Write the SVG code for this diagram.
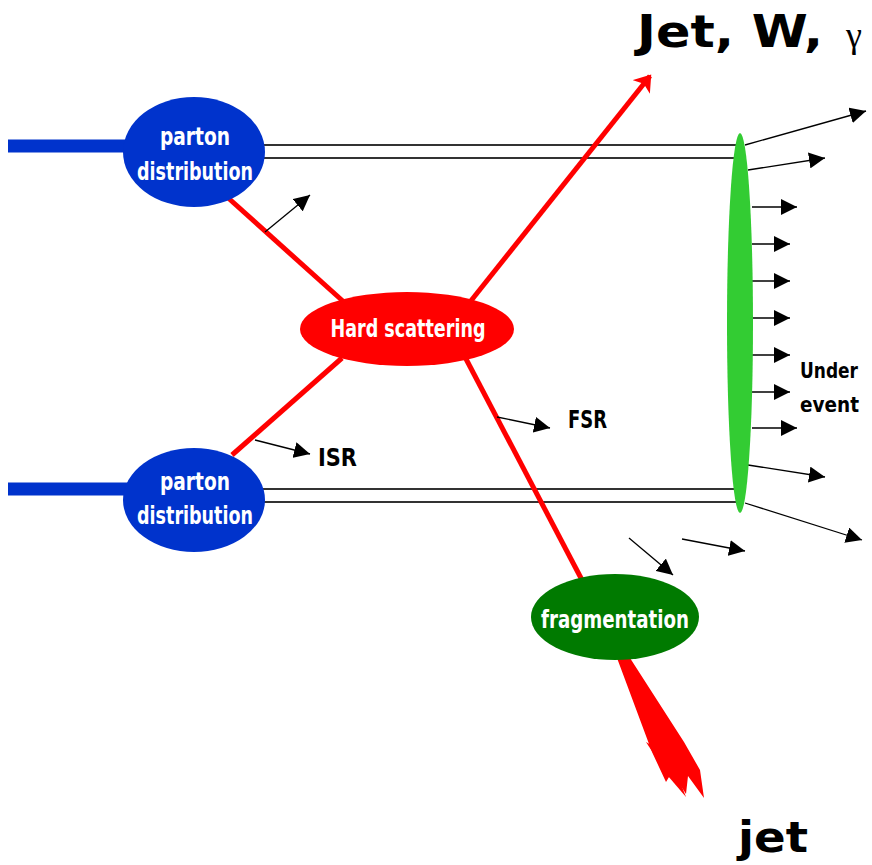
<svg xmlns="http://www.w3.org/2000/svg" width="872" height="865" viewBox="0 0 872 865">
<defs>
<marker id="ah" markerUnits="userSpaceOnUse" markerWidth="18" markerHeight="16" refX="16" refY="8" orient="auto">
<path d="M0,0 L16,8 L0,16 Z" fill="#000"/>
</marker>
<marker id="rh" markerUnits="userSpaceOnUse" markerWidth="22" markerHeight="22" refX="14" refY="11" orient="auto">
<path d="M0,0 L16,11 L0,22 L4,11 Z" fill="#ff0000"/>
</marker>
<style>
.lbl{font-family:"DejaVu Sans Condensed","DejaVu Sans",sans-serif;font-weight:bold;fill:#fff;font-size:25px}
.blk{font-family:"DejaVu Sans Condensed","DejaVu Sans",sans-serif;font-weight:bold;fill:#000;font-size:25px}
.ue{font-size:21px}
.big{font-family:"Comic Sans MS","DejaVu Sans",sans-serif;font-weight:bold;fill:#000}
.red{stroke:#ff0000;stroke-width:5;fill:none}
.thin{stroke:#000;stroke-width:1.3;fill:none;marker-end:url(#ah)}
.dbl{stroke:#333;stroke-width:2;fill:none}
.beam{stroke:#0033cc;stroke-width:13;fill:none}
</style>
</defs>
<rect width="872" height="865" fill="#fff"/>

<g id="connectors">
<line class="beam" x1="8" y1="146" x2="130" y2="146"/>
<line class="beam" x1="8" y1="489" x2="130" y2="489"/>
<line class="dbl" x1="262" y1="145" x2="740" y2="145"/>
<line class="dbl" x1="262" y1="158" x2="740" y2="158"/>
<line class="dbl" x1="262" y1="489" x2="740" y2="489"/>
<line class="dbl" x1="262" y1="502" x2="740" y2="502"/>
<line class="red" x1="226" y1="196" x2="345" y2="303"/>
<line class="red" x1="232" y1="455" x2="342" y2="358"/>
<line class="red" x1="470" y1="302" x2="650" y2="76" marker-end="url(#rh)"/>
<line class="red" x1="465" y1="357" x2="582" y2="580"/>
<polygon points="617,658 630,658 684,742 700,770 704,798 688,776 686,794 672,772 666,782 652,752" fill="#ff0000"/>
<polygon points="646,742 670,756 686,797 668,776" fill="#ff0000"/>
<line class="thin" x1="265" y1="232" x2="310" y2="195"/>
<line class="thin" x1="255" y1="440" x2="310" y2="454"/>
<line class="thin" x1="497" y1="417" x2="550" y2="428"/>
<line class="thin" x1="629" y1="538" x2="673" y2="575"/>
<line class="thin" x1="682" y1="539" x2="745" y2="551"/>
<line class="thin" x1="745" y1="145" x2="866" y2="111"/>
<line class="thin" x1="748" y1="170" x2="825" y2="158"/>
<line class="thin" x1="752" y1="207" x2="797" y2="207"/>
<line class="thin" x1="752" y1="244" x2="790" y2="244"/>
<line class="thin" x1="752" y1="281" x2="790" y2="281"/>
<line class="thin" x1="752" y1="318" x2="790" y2="318"/>
<line class="thin" x1="752" y1="355" x2="790" y2="355"/>
<line class="thin" x1="752" y1="392" x2="790" y2="392"/>
<line class="thin" x1="752" y1="428" x2="797" y2="428"/>
<line class="thin" x1="748" y1="465" x2="825" y2="477"/>
<line class="thin" x1="745" y1="503" x2="862" y2="540"/>
</g>

<g id="parton-top">
<ellipse cx="194" cy="152" rx="71" ry="55" fill="#0033cc"/>
<text class="lbl" x="195" y="145" text-anchor="middle" textLength="70" lengthAdjust="spacingAndGlyphs">parton</text>
<text class="lbl" x="195" y="180" text-anchor="middle" textLength="116" lengthAdjust="spacingAndGlyphs">distribution</text>
</g>

<g id="parton-bottom">
<ellipse cx="194" cy="500" rx="71" ry="52" fill="#0033cc"/>
<text class="lbl" x="195" y="490" text-anchor="middle" textLength="70" lengthAdjust="spacingAndGlyphs">parton</text>
<text class="lbl" x="195" y="524" text-anchor="middle" textLength="116" lengthAdjust="spacingAndGlyphs">distribution</text>
</g>

<g id="hard-scattering">
<ellipse cx="407" cy="329" rx="107" ry="37" fill="#ff0000"/>
<text class="lbl" x="408" y="337" text-anchor="middle" textLength="155" lengthAdjust="spacingAndGlyphs">Hard scattering</text>
</g>

<g id="fragmentation">
<ellipse cx="615" cy="617" rx="84" ry="43" fill="#007a00"/>
<text class="lbl" x="615" y="628" text-anchor="middle" textLength="148" lengthAdjust="spacingAndGlyphs">fragmentation</text>
</g>

<g id="underlying-event">
<ellipse cx="740" cy="323" rx="13" ry="190" fill="#33cc33"/>
<text class="blk ue" x="800" y="378" textLength="58" lengthAdjust="spacingAndGlyphs">Under</text>
<text class="blk ue" x="800" y="412" textLength="59" lengthAdjust="spacingAndGlyphs">event</text>
</g>

<g id="isr-label">
<text class="blk" x="318" y="466" textLength="39" lengthAdjust="spacingAndGlyphs">ISR</text>
</g>
<g id="fsr-label">
<text class="blk" x="568" y="428" textLength="39" lengthAdjust="spacingAndGlyphs">FSR</text>
</g>

<g id="jet-w-gamma">
<text class="big" x="637" y="47" font-size="44" textLength="186" lengthAdjust="spacingAndGlyphs">Jet, W,</text>
<text x="846" y="47" font-size="36" font-family="'Liberation Serif',serif" fill="#000">γ</text>
</g>

<g id="jet-label">
<text class="big" x="738" y="852" font-size="42" textLength="70" lengthAdjust="spacingAndGlyphs">jet</text>
</g>
</svg>
